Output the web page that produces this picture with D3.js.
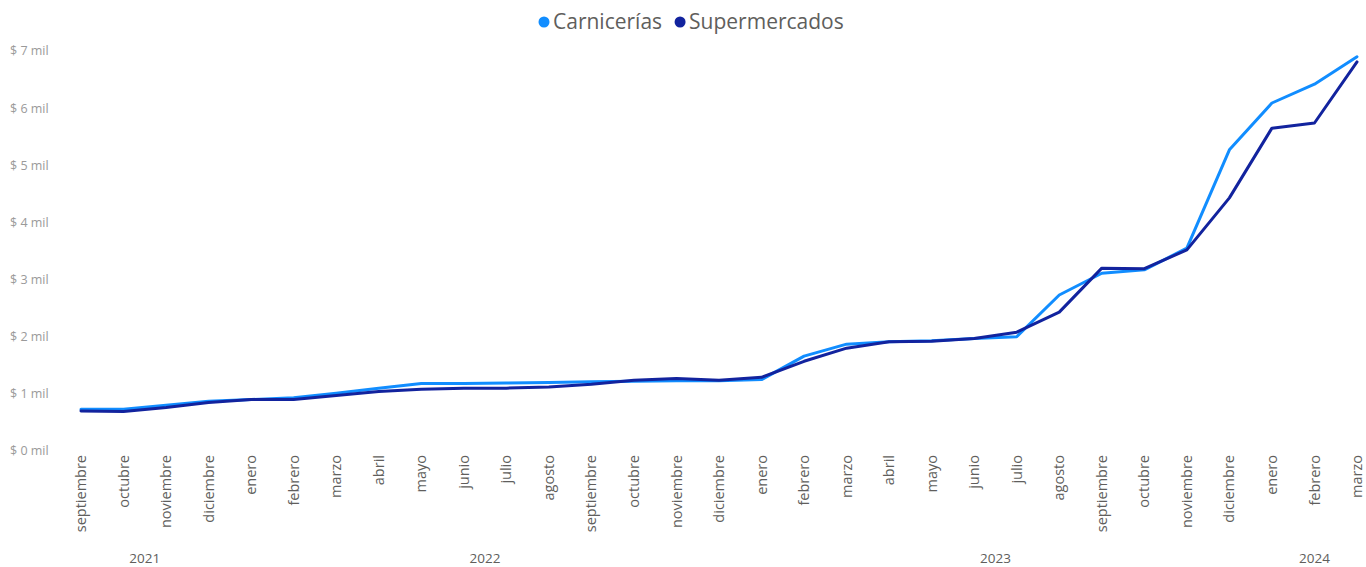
<!DOCTYPE html>
<html>
<head>
<meta charset="utf-8">
<script src="https://cdn.jsdelivr.net/npm/d3@7"></script>
<style>
  html, body { margin: 0; padding: 0; background: #fff; }
  svg { display: block; }
</style>
</head>
<body>
<svg id="chart" width="1366" height="567"></svg>
<script>
const months = ["septiembre","octubre","noviembre","diciembre",
  "enero","febrero","marzo","abril","mayo","junio","julio","agosto","septiembre","octubre","noviembre","diciembre",
  "enero","febrero","marzo","abril","mayo","junio","julio","agosto","septiembre","octubre","noviembre","diciembre",
  "enero","febrero","marzo"];
const years = ["2021","2021","2021","2021",
  "2022","2022","2022","2022","2022","2022","2022","2022","2022","2022","2022","2022",
  "2023","2023","2023","2023","2023","2023","2023","2023","2023","2023","2023","2023",
  "2024","2024","2024"];
const carnicerias = [0.73,0.73,0.80,0.87,0.90,0.93,1.01,1.10,1.18,1.18,1.19,1.20,1.21,1.22,1.23,1.23,1.25,1.66,1.87,1.91,1.93,1.97,2.00,2.73,3.11,3.17,3.55,5.27,6.09,6.42,6.90];
const supermercados = [0.70,0.69,0.76,0.85,0.90,0.90,0.97,1.04,1.08,1.10,1.10,1.12,1.17,1.24,1.27,1.24,1.29,1.57,1.80,1.91,1.92,1.97,2.08,2.43,3.20,3.19,3.52,4.43,5.65,5.74,6.81];
const yTicks = [0,1,2,3,4,5,6,7];
const seriesNames = ["Carnicerías","Supermercados"];
const colors = ["#118DFF","#12239E"];

const svg = d3.select("#chart");
const idx = d3.range(months.length);
const x = d3.scaleLinear().domain([0, months.length - 1]).range([81, 1357]);
const y = d3.scaleLinear().domain([0, 7]).range([451, 51]);

// y axis labels
svg.append("g").selectAll("text").data(yTicks).join("text")
  .attr("x", 10).attr("y", d => y(d)).attr("dy", "0.35em")
  .attr("font-family", "Segoe UI, 'Open Sans', sans-serif").attr("font-size", 12.5)
  .attr("fill", "#9a9a9a")
  .text(d => "$ " + d + " mil");

// x month labels
svg.append("g").selectAll("text").data(idx).join("text")
  .attr("transform", i => `translate(${x(i)},455) rotate(-90)`)
  .attr("text-anchor", "end").attr("dy", "0.35em")
  .attr("font-family", "Segoe UI, 'Open Sans', sans-serif").attr("font-size", 14.5)
  .attr("fill", "#605E5C")
  .text(i => months[i]);

// year labels
const yearGroups = d3.groups(idx, i => years[i]);
svg.append("g").selectAll("text").data(yearGroups).join("text")
  .attr("x", d => (x(d[1][0]) + x(d[1][d[1].length - 1])) / 2)
  .attr("y", 558).attr("dy", "0.35em").attr("text-anchor", "middle")
  .attr("font-family", "Segoe UI, 'Open Sans', sans-serif").attr("font-size", 13.5)
  .attr("fill", "#605E5C")
  .text(d => d[0]);

// lines
const line = d3.line().x((d, i) => x(i)).y(d => y(d));
[carnicerias, supermercados].forEach((s, k) => {
  svg.append("path").datum(s)
    .attr("fill", "none").attr("stroke", colors[k]).attr("stroke-width", 3)
    .attr("stroke-linejoin", "round").attr("stroke-linecap", "round")
    .attr("d", line);
});

// legend
const legend = svg.append("g").attr("font-family", "Segoe UI, 'Open Sans', sans-serif").attr("font-size", 21);
let lx = 544;
seriesNames.forEach((n, k) => {
  legend.append("circle").attr("cx", lx).attr("cy", 22).attr("r", 5.5).attr("fill", colors[k]);
  const t = legend.append("text").attr("x", lx + 9).attr("y", 22).attr("dy", "0.35em")
    .attr("fill", "#605E5C").text(n);
  lx += 9 + t.node().getComputedTextLength() + 18;
});
</script>
</body>
</html>
